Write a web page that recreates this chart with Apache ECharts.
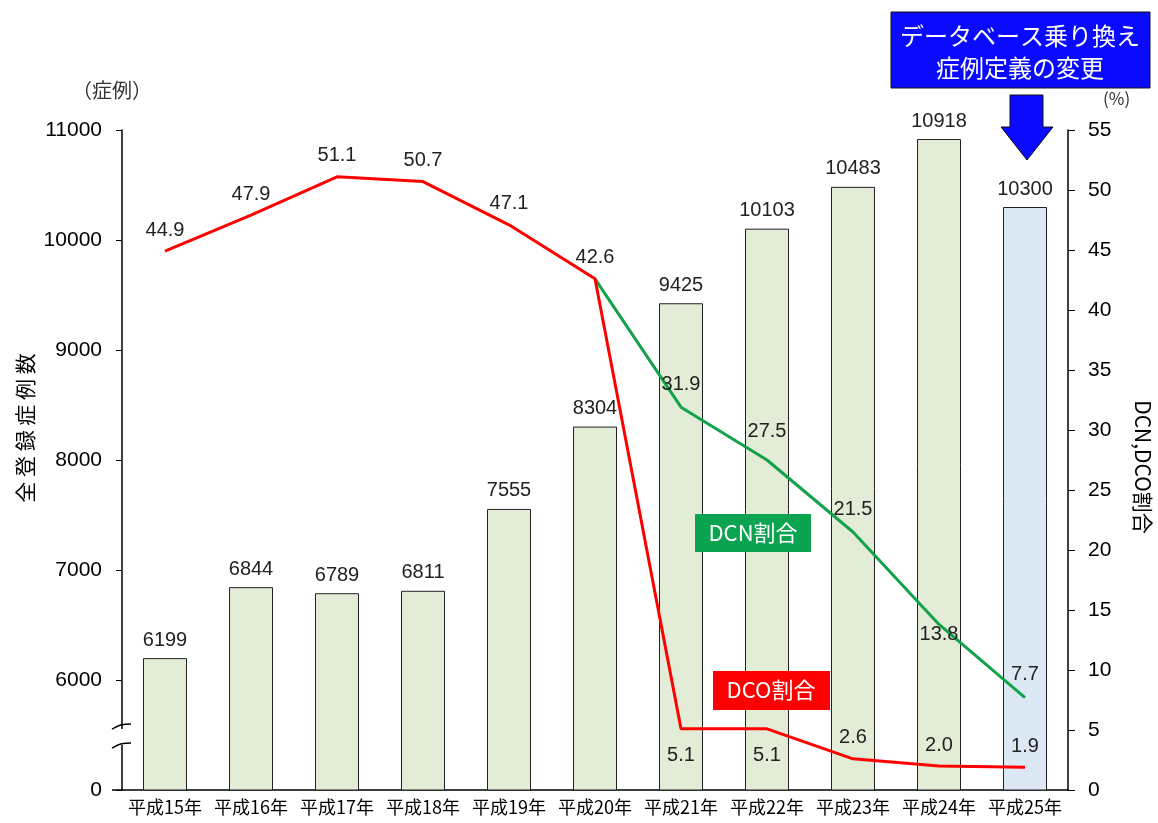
<!DOCTYPE html>
<html><head><meta charset="utf-8">
<script src="https://cdn.jsdelivr.net/npm/echarts@6/dist/echarts.min.js"></script>
<style>html,body{margin:0;padding:0;background:#fff}#c{width:1158px;height:823px}</style>
</head><body><div id="c"></div>
<script>
const categories = ['平成15年','平成16年','平成17年','平成18年','平成19年','平成20年','平成21年','平成22年','平成23年','平成24年','平成25年'];
const cases = [6199, 6844, 6789, 6811, 7555, 8304, 9425, 10103, 10483, 10918, 10300];
const dcoRate = [44.9, 47.9, 51.1, 50.7, 47.1, 42.6, 5.1, 5.1, 2.6, 2.0, 1.9];
const dcnRate = [null, null, null, null, null, 42.6, 31.9, 27.5, 21.5, 13.8, 7.7];
const leftTicks = [5000, 6000, 7000, 8000, 9000, 10000, 11000];
const leftTickLabels = ['0', '6000', '7000', '8000', '9000', '10000', '11000'];

const BREAK_BASE = 5000;
const chart = echarts.init(document.getElementById('c'));
const FONT = 'Liberation Sans, Arial, sans-serif';
const JP = '"Noto Sans CJK JP", sans-serif';
const CLEAR = 'rgba(0,0,0,0)';
const fmt1 = p => Number(p.value).toFixed(1);

const barData = cases.map((v, i) => ({
  value: v,
  itemStyle: { color: i === cases.length - 1 ? '#dce8f4' : '#e3ecd6' }
}));
const dcoData = dcoRate.map((v, i) => ({
  value: v,
  label: { position: (i === 6 || i === 7) ? 'bottom' : 'top', distance: (i === 6 || i === 7) ? 16 : 10 }
}));
const dcnData = dcnRate.map((v, i) => (v == null ? '-' : {
  value: v,
  label: { show: i > 5, position: i === 9 ? 'inside' : 'top', distance: i === 7 ? 18 : 12, offset: i === 9 ? [0, 10] : [0, 0] }
}));

chart.setOption({
  animation: false,
  grid: { left: 122, right: 90, top: 130, bottom: 33 },
  xAxis: {
    type: 'category', data: categories,
    axisLine: { lineStyle: { color: '#000', width: 1.5 } },
    axisTick: { show: false },
    axisLabel: { color: '#000', fontSize: 18, fontFamily: JP, margin: 8, interval: 0, hideOverlap: false }
  },
  yAxis: [{
    type: 'value', min: BREAK_BASE, max: 11000, interval: 1000,
    axisLine: { show: true, lineStyle: { color: '#000', width: 1.5 } },
    axisTick: { show: true, length: 6, lineStyle: { color: '#000' } },
    splitLine: { show: false },
    axisLabel: { color: '#000', fontSize: 21, fontFamily: FONT, margin: 20,
      formatter: v => { const k = leftTicks.indexOf(v); return k >= 0 ? leftTickLabels[k] : ''; } }
  }, {
    type: 'value', min: 0, max: 55, interval: 5, position: 'right',
    axisLine: { show: true, lineStyle: { color: '#000', width: 1.5 } },
    axisTick: { show: true, length: 7, lineStyle: { color: '#000' } },
    splitLine: { show: false },
    axisLabel: { color: '#000', fontSize: 21, fontFamily: FONT, margin: 20 }
  }],
  series: [{
    type: 'bar', yAxisIndex: 0, data: barData, barWidth: 44,
    itemStyle: { borderColor: '#222', borderWidth: 1 },
    label: { show: true, position: 'top', distance: 8, color: '#222', fontSize: 20, fontFamily: FONT }
  }, {
    type: 'line', yAxisIndex: 1, data: dcnData, symbol: 'circle', symbolSize: 1, showSymbol: true, z: 3,
    lineStyle: { color: '#12a24a', width: 3 },
    itemStyle: { color: CLEAR, borderColor: CLEAR },
    label: { show: true, color: '#222', fontSize: 20, fontFamily: FONT, formatter: fmt1 }
  }, {
    type: 'line', yAxisIndex: 1, data: dcoData, symbol: 'circle', symbolSize: 1, showSymbol: true, z: 4,
    lineStyle: { color: '#ff0000', width: 3 },
    itemStyle: { color: CLEAR, borderColor: CLEAR },
    label: { show: true, color: '#222', fontSize: 20, fontFamily: FONT, formatter: fmt1 }
  }],
  graphic: [
    { type: 'text', left: 72, top: 80, style: { text: '（症例）', font: '20px ' + JP, fill: '#333' } },
    { type: 'text', left: 1103, top: 90, style: { text: '(%)', font: '17px ' + JP, fill: '#333' } },
    { type: 'text', x: 25, y: 428, rotation: Math.PI / 2,
      style: { text: '全 登 録 症 例 数', font: '21px ' + JP, fill: '#000', align: 'center', verticalAlign: 'middle' } },
    { type: 'text', x: 1143, y: 467, rotation: -Math.PI / 2,
      style: { text: 'DCN,DCO割合', font: '21px ' + JP, fill: '#000', align: 'center', verticalAlign: 'middle' } },
    // axis break
    { type: 'rect', shape: { x: 110, y: 729, width: 24, height: 16 }, style: { fill: '#fff' }, z: 100 },
    { type: 'bezierCurve', shape: { x1: 112, y1: 729, cpx1: 118, cpy1: 726, cpx2: 120, cpy2: 724, x2: 131, y2: 724 },
      style: { stroke: '#000', lineWidth: 1.5, fill: null }, z: 101 },
    { type: 'bezierCurve', shape: { x1: 112, y1: 748, cpx1: 118, cpy1: 745, cpx2: 120, cpy2: 743, x2: 131, y2: 743 },
      style: { stroke: '#000', lineWidth: 1.5, fill: null }, z: 101 },
    { type: 'line', shape: { x1: 112, y1: 790, x2: 122, y2: 790 }, style: { stroke: '#000', lineWidth: 1.5 } },
    // legend-like boxes
    { type: 'rect', shape: { x: 695, y: 514, width: 116, height: 38 }, style: { fill: '#0aa34f' }, z: 50 },
    { type: 'text', x: 753, y: 533, z: 51, style: { text: 'DCN割合', font: '22px ' + JP, fill: '#fff', align: 'center', verticalAlign: 'middle' } },
    { type: 'rect', shape: { x: 713, y: 671, width: 117, height: 39 }, style: { fill: '#ff0000' }, z: 50 },
    { type: 'text', x: 771, y: 690, z: 51, style: { text: 'DCO割合', font: '22px ' + JP, fill: '#fff', align: 'center', verticalAlign: 'middle' } },
    // top annotation
    { type: 'rect', shape: { x: 891, y: 12, width: 259, height: 76 }, style: { fill: '#0a0aff', stroke: '#111', lineWidth: 1 }, z: 50 },
    { type: 'text', x: 1020, y: 52, z: 51, style: { text: 'データベース乗り換え\n症例定義の変更', font: '24px ' + JP, lineHeight: 32, fill: '#fff', align: 'center', verticalAlign: 'middle' } },
    { type: 'polygon', shape: { points: [[1010, 95], [1043, 95], [1043, 127], [1053, 127], [1027, 160], [1001, 127], [1010, 127]] },
      style: { fill: '#0a0aff', stroke: '#111', lineWidth: 1 }, z: 50 }
  ]
});
</script></body></html>
